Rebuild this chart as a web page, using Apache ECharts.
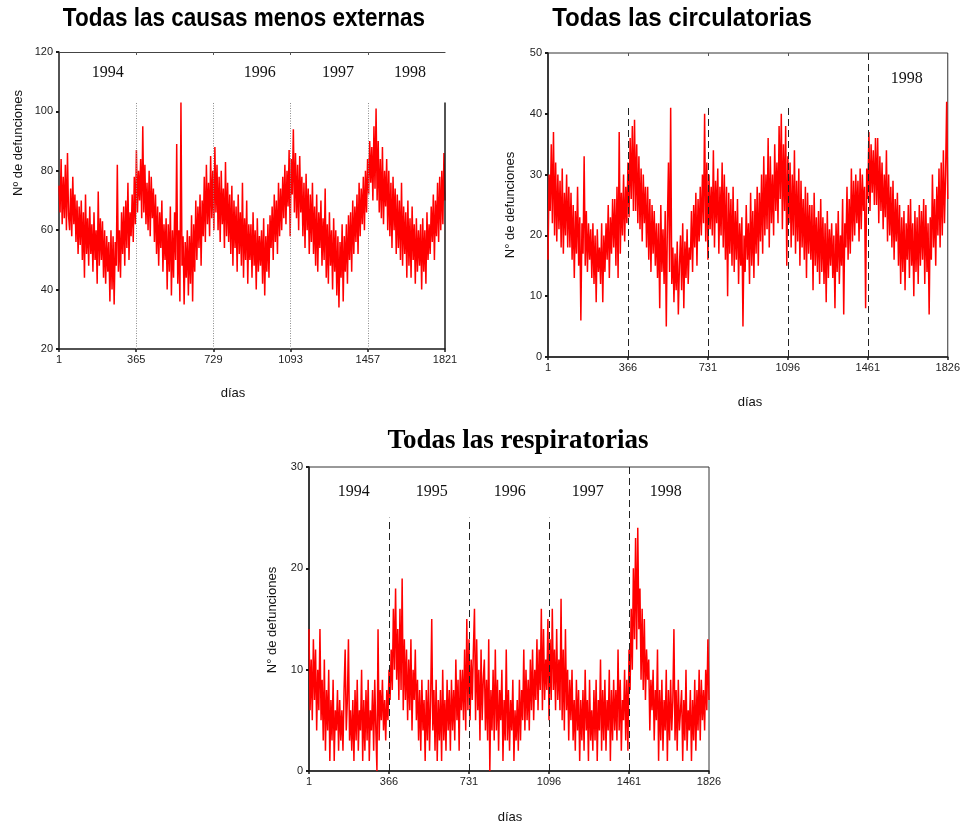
<!DOCTYPE html>
<html>
<head>
<meta charset="utf-8">
<script src="https://cdn.jsdelivr.net/npm/echarts@6/dist/echarts.min.js"></script>
<style>
  html, body { margin: 0; padding: 0; background: #ffffff; }
  #chart { width: 963px; height: 827px; }
</style>
</head>
<body>
<div id="chart"></div>
<script>
// Daily deaths 1994-1998, one reading every PASO days (day 1, 6, 11, ...)
const PASO = 5;

// Todas las causas menos externas (days 1..1821)
const causasMenosExternas = [
  75, 66, 84, 62, 78, 64, 82, 60, 86, 65,
  60, 74, 58, 78, 62, 72, 56, 70, 52, 68,
  55, 70, 50, 66, 44, 72, 52, 64, 48, 68,
  52, 62, 46, 66, 50, 60, 42, 73, 48, 64,
  50, 63, 44, 60, 42, 58, 46, 56, 36, 60,
  40, 58, 35, 56, 48, 82, 46, 60, 44, 66,
  52, 68, 48, 70, 54, 76, 50, 66, 58, 72,
  56, 78, 62, 87, 66, 80, 70, 84, 64, 95,
  66, 82, 62, 76, 60, 80, 58, 78, 64, 74,
  56, 72, 52, 68, 48, 66, 54, 70, 46, 62,
  50, 64, 40, 62, 46, 68, 38, 60, 44, 66,
  50, 89, 42, 60, 36, 103, 48, 58, 35, 56,
  44, 60, 38, 58, 42, 65, 36, 62, 46, 70,
  50, 68, 54, 72, 48, 70, 58, 78, 56, 82,
  62, 76, 58, 85, 64, 80, 60, 88, 66, 82,
  60, 78, 56, 80, 62, 74, 54, 83, 58, 76,
  56, 72, 52, 75, 48, 70, 54, 68, 46, 72,
  52, 66, 48, 76, 44, 64, 50, 70, 42, 62,
  50, 62, 44, 66, 48, 60, 40, 64, 46, 58,
  48, 60, 42, 64, 38, 58, 46, 62, 44, 65,
  54, 68, 50, 72, 56, 70, 52, 76, 58, 74,
  60, 78, 64, 82, 62, 80, 68, 87, 58, 84,
  72, 94, 66, 86, 64, 82, 60, 85, 66, 78,
  58, 76, 54, 79, 60, 74, 52, 72, 56, 76,
  52, 68, 48, 72, 46, 66, 54, 70, 48, 64,
  50, 74, 44, 62, 42, 66, 48, 60, 40, 64,
  46, 60, 38, 58, 34, 56, 44, 62, 36, 58,
  46, 62, 42, 65, 50, 66, 46, 70, 52, 68,
  56, 72, 52, 76, 58, 74, 62, 78, 60, 80,
  66, 84, 72, 90, 76, 88, 70, 95, 74, 101,
  70, 90, 66, 84, 64, 88, 62, 80, 68, 84,
  60, 80, 58, 76, 54, 78, 60, 74, 52, 72,
  54, 70, 50, 76, 48, 68, 52, 66, 44, 70,
  48, 64, 44, 68, 50, 62, 42, 64, 46, 60,
  48, 62, 40, 64, 46, 60, 42, 66, 50, 62,
  52, 68, 56, 72, 50, 70, 58, 76, 56, 78,
  60, 80, 62, 86, 70
];

// Todas las circulatorias (days 1..1821, then 1826)
const circulatorias = [
  16, 30, 24, 35, 22, 37, 20, 32, 19, 30,
  21, 29, 18, 31, 17, 27, 20, 30, 18, 28,
  18, 27, 16, 25, 13, 24, 17, 28, 15, 23,
  6, 22, 17, 33, 15, 24, 14, 22, 16, 21,
  13, 22, 12, 20, 9, 21, 14, 18, 12, 22,
  9, 20, 14, 22, 16, 25, 13, 23, 17, 26,
  18, 26, 15, 28, 13, 37, 17, 27, 20, 30,
  19, 28, 22, 32, 23, 36, 26, 38, 24, 39,
  24, 35, 22, 33, 21, 31, 19, 30, 22, 28,
  18, 28, 16, 26, 14, 25, 17, 24, 15, 22,
  13, 22, 8, 25, 14, 21, 12, 24, 5, 22,
  32, 14, 41, 12, 18, 9, 17, 11, 19, 7,
  15, 20, 11, 22, 8, 19, 13, 21, 12, 18,
  16, 24, 14, 25, 18, 27, 15, 26, 19, 28,
  20, 30, 22, 40, 19, 32, 16, 30, 21, 28,
  20, 34, 18, 29, 22, 31, 17, 28, 20, 32,
  18, 30, 16, 28, 10, 27, 17, 26, 15, 28,
  14, 24, 16, 26, 12, 22, 15, 23, 5, 20,
  14, 25, 16, 22, 12, 27, 15, 24, 13, 26,
  17, 28, 15, 27, 19, 30, 17, 33, 20, 30,
  21, 36, 18, 33, 22, 30, 20, 35, 24, 32,
  22, 38, 26, 40, 21, 35, 24, 38, 15, 33,
  22, 32, 18, 30, 20, 34, 17, 29, 19, 31,
  15, 29, 18, 26, 16, 28, 13, 27, 17, 25,
  16, 25, 11, 27, 15, 23, 14, 24, 12, 26,
  14, 23, 12, 22, 9, 24, 13, 21, 15, 22,
  13, 20, 8, 22, 14, 24, 12, 20, 15, 26,
  7, 22, 18, 28, 16, 26, 17, 31, 19, 29,
  20, 30, 22, 29, 19, 31, 21, 30, 24, 28,
  8, 31, 26, 37, 24, 35, 27, 34, 25, 36,
  25, 36, 22, 33, 24, 32, 21, 30, 23, 34,
  19, 30, 20, 28, 18, 29, 16, 26, 19, 27,
  15, 25, 12, 23, 14, 24, 11, 22, 16, 25,
  13, 26, 15, 22, 10, 24, 14, 23, 12, 25,
  15, 24, 16, 26, 12, 25, 14, 22, 7, 23,
  16, 30, 18, 26, 15, 28, 20, 31, 18, 32,
  20, 34, 22, 30, 42, 26
];

// Todas las respiratorias (days 1..1821, then 1826)
const respiratorias = [
  14, 6, 11, 5, 13, 7, 12, 4, 10, 6,
  14, 5, 9, 3, 11, 2, 8, 4, 10, 1,
  7, 3, 9, 1, 6, 4, 8, 2, 7, 3,
  6, 2, 8, 12, 4, 7, 13, 3, 6, 2,
  7, 1, 8, 3, 9, 2, 6, 4, 10, 1,
  7, 2, 8, 3, 9, 1, 6, 4, 8, 2,
  9, 4, 0, 14, 3, 8, 5, 9, 4, 7,
  3, 8, 5, 10, 7, 12, 8, 16, 10, 18,
  9, 14, 7, 16, 8, 19, 6, 13, 7, 12,
  5, 11, 6, 13, 4, 10, 7, 12, 5, 9,
  3, 8, 2, 9, 4, 7, 1, 8, 3, 9,
  2, 7, 15, 4, 8, 2, 9, 1, 7, 3,
  8, 1, 10, 3, 7, 2, 9, 4, 8, 2,
  9, 4, 8, 3, 11, 5, 9, 2, 10, 6,
  10, 5, 12, 4, 15, 6, 13, 5, 11, 7,
  12, 16, 5, 13, 6, 10, 3, 12, 5, 9,
  11, 4, 9, 3, 13, 0, 8, 4, 10, 3,
  12, 4, 9, 2, 8, 5, 10, 1, 7, 3,
  12, 3, 8, 2, 7, 4, 9, 1, 6, 3,
  7, 2, 9, 3, 8, 5, 12, 4, 10, 5,
  9, 4, 11, 6, 12, 5, 10, 7, 13, 6,
  12, 8, 16, 6, 14, 7, 11, 8, 15, 5,
  13, 7, 16, 8, 12, 6, 14, 7, 11, 6,
  17, 5, 12, 4, 14, 6, 10, 3, 9, 5,
  10, 3, 7, 2, 9, 4, 8, 1, 7, 3,
  8, 2, 10, 4, 7, 1, 9, 3, 6, 2,
  8, 3, 9, 1, 7, 4, 11, 2, 8, 3,
  9, 2, 7, 4, 10, 1, 8, 3, 9, 4,
  8, 3, 12, 4, 9, 2, 7, 5, 10, 3,
  9, 2, 12, 8, 16, 10, 20, 13, 23, 12,
  24, 14, 18, 9, 16, 8, 15, 7, 12, 9,
  11, 4, 9, 6, 10, 3, 8, 5, 12, 1,
  8, 3, 9, 2, 7, 4, 10, 1, 8, 3,
  9, 4, 7, 14, 3, 8, 2, 9, 4, 6,
  8, 1, 7, 3, 10, 2, 6, 4, 8, 1,
  7, 3, 9, 2, 8, 4, 10, 3, 9, 5,
  8, 4, 10, 6, 13, 7
];

// Axis ticks and year boundaries (in days)
const ticksA = [1, 365, 729, 1093, 1457, 1821];
const ticksB = [1, 366, 731, 1096, 1461, 1826];
const cortesA = [365, 729, 1093, 1457];
const cortesB = [366, 731, 1096, 1461];
const aniosA = ['1994', '1996', '1997', '1998'];
const aniosB = ['1998'];
const aniosC = ['1994', '1995', '1996', '1997', '1998'];
const titulos = ['Todas las causas menos externas', 'Todas las circulatorias', 'Todas las respiratorias'];
const nombresY = ['Nº de defunciones', 'N° de defunciones', 'N° de defunciones'];
const nombreX = 'días';

const SANS = '"Liberation Sans", Arial, Helvetica, sans-serif';
const SERIF = '"Liberation Serif", "Times New Roman", serif';
const ROJO = '#ff0000';
const EJE = '#1a1a1a';

function puntos(valores, ultimoDia) {
  return valores.map((v, i) => [Math.min(1 + i * PASO, ultimoDia), v]);
}

const paneles = [
  {
    grid: { left: 59, top: 52, width: 386, height: 297 },
    ymin: 20, ymax: 120, yint: 20, xmax: 1821, ticks: ticksA,
    datos: causasMenosExternas, cortes: cortesA, alto: [103, 103, 103, 103],
    corteStyle: { type: [1, 1.5], color: '#8c8c8c', width: 1 },
    topTicks: cortesA, borde: false,
    anios: aniosA, posAnios: [[231, 113], [948, 113], [1316, 113], [1656, 113]],
    titulo: { x: 244, y: 19, font: SANS, size: 25, escala: 0.9 },
    nombreY: { x: 18, y: 143 }, nombreX: { x: 233, y: 393 }
  },
  {
    grid: { left: 548, top: 53, width: 401, height: 304 },
    ymin: 0, ymax: 50, yint: 10, xmax: 1826, ticks: ticksB,
    datos: circulatorias, cortes: cortesB, alto: [41, 41, 41, 50],
    corteStyle: { type: [7, 4], color: '#222', width: 1 },
    topTicks: [366, 731, 1096], borde: true,
    anios: aniosB, posAnios: [[1639, 45.8]],
    titulo: { x: 682, y: 19, font: SANS, size: 25, escala: 0.965 },
    nombreY: { x: 510, y: 205 }, nombreX: { x: 750, y: 402 }
  },
  {
    grid: { left: 309, top: 467, width: 400, height: 304 },
    ymin: 0, ymax: 30, yint: 10, xmax: 1826, ticks: ticksB,
    datos: respiratorias, cortes: cortesB, alto: [25, 25, 25, 30],
    corteStyle: { type: [7, 4], color: '#222', width: 1 },
    topTicks: null, borde: true,
    anios: aniosC, posAnios: [[205, 27.6], [561, 27.6], [917, 27.6], [1273, 27.6], [1629, 27.6]],
    titulo: { x: 518, y: 441, font: SERIF, size: 27, escala: 1 },
    nombreY: { x: 272, y: 620 }, nombreX: { x: 510, y: 817 }
  }
];

const grid = [], xAxis = [], yAxis = [], series = [];
const etiquetaEntera = v => String(v);

paneles.forEach((p, k) => {
  grid.push(Object.assign({
    show: p.borde, borderColor: '#333', borderWidth: 1, backgroundColor: 'transparent'
  }, p.grid));

  xAxis.push({
    type: 'value', gridIndex: k, min: 1, max: p.xmax, position: 'bottom',
    axisLine: { show: true, onZero: false, lineStyle: { color: EJE, width: 1.5 } },
    axisTick: { show: true, customValues: p.ticks, length: 3, lineStyle: { color: EJE, width: 1.5 } },
    axisLabel: {
      show: true, customValues: p.ticks, formatter: etiquetaEntera,
      fontFamily: SANS, fontSize: 11, color: '#222', margin: 5
    },
    splitLine: { show: false }
  });

  yAxis.push({
    type: 'value', gridIndex: k, min: p.ymin, max: p.ymax, interval: p.yint,
    axisLine: { show: true, onZero: false, lineStyle: { color: EJE, width: 1.5 } },
    axisTick: { show: true, length: 3, lineStyle: { color: EJE, width: 2 } },
    axisLabel: { formatter: etiquetaEntera, fontFamily: SANS, fontSize: 11, color: '#222', margin: 6 },
    splitLine: { show: false }
  });

  const lineas = p.cortes.map((d, j) => [
    { coord: [d, p.ymin] }, { coord: [d, p.alto[j]] }
  ]);
  if (!p.borde) {
    // right frame edge only runs up to the year markers on this panel
    lineas.push([
      { coord: [p.xmax, p.ymin], lineStyle: { type: 'solid', color: EJE, width: 1.5 } },
      { coord: [p.xmax, p.alto[0]] }
    ]);
  }

  series.push({
    type: 'line', xAxisIndex: k, yAxisIndex: k,
    data: puntos(p.datos, p.xmax),
    showSymbol: false, symbol: 'none', smooth: false,
    lineStyle: { color: ROJO, width: 1.5 },
    itemStyle: { color: ROJO },
    animation: false, silent: true,
    markLine: {
      silent: true, symbol: ['none', 'none'], animation: false,
      label: { show: false },
      lineStyle: p.corteStyle,
      data: lineas
    }
  });
});

// Top frame ticks at the year boundaries
paneles.forEach((p, k) => {
  if (!p.topTicks) return;
  xAxis.push({
    type: 'value', gridIndex: k, min: 1, max: p.xmax, position: 'top',
    axisLine: { show: !p.borde, onZero: false, lineStyle: { color: '#444', width: 1.2 } },
    axisTick: { show: true, inside: true, customValues: p.topTicks, length: 3, lineStyle: { color: '#555', width: 1 } },
    axisLabel: { show: false },
    splitLine: { show: false }
  });
});

const chart = echarts.init(document.getElementById('chart'), null, { renderer: 'canvas' });
chart.setOption({
  animation: false,
  backgroundColor: '#ffffff',
  grid, xAxis, yAxis, series
});

// Titles, axis names and year labels
const graphic = [];
paneles.forEach((p, k) => {
  graphic.push({
    type: 'text', x: p.titulo.x, y: p.titulo.y, scaleX: p.titulo.escala, silent: true,
    style: {
      text: titulos[k], fontFamily: p.titulo.font, fontWeight: 'bold', fontSize: p.titulo.size,
      fill: '#000', textAlign: 'center', textVerticalAlign: 'middle'
    }
  });
  graphic.push({
    type: 'text', x: p.nombreY.x, y: p.nombreY.y, rotation: Math.PI / 2, silent: true,
    style: {
      text: nombresY[k], fontFamily: SANS, fontSize: 13, fill: '#111',
      textAlign: 'center', textVerticalAlign: 'middle'
    }
  });
  graphic.push({
    type: 'text', x: p.nombreX.x, y: p.nombreX.y, silent: true,
    style: {
      text: nombreX, fontFamily: SANS, fontSize: 13, fill: '#111',
      textAlign: 'center', textVerticalAlign: 'middle'
    }
  });
  p.anios.forEach((a, j) => {
    const px = chart.convertToPixel({ gridIndex: k }, p.posAnios[j]);
    graphic.push({
      type: 'text', x: px[0], y: px[1], silent: true,
      style: {
        text: a, fontFamily: SERIF, fontSize: 16, fill: '#111',
        textAlign: 'center', textVerticalAlign: 'middle'
      }
    });
  });
});
chart.setOption({ graphic });
</script>
</body>
</html>
